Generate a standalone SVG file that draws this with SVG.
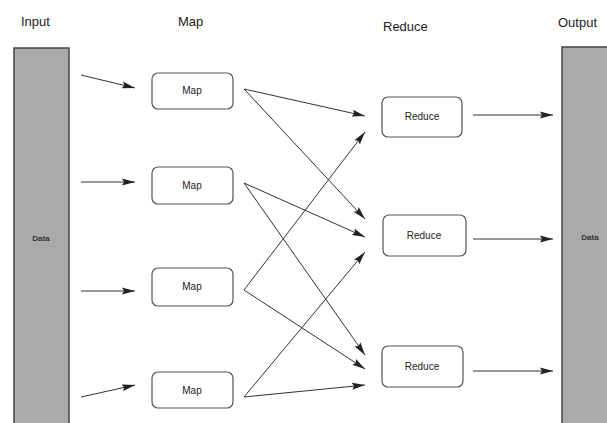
<svg xmlns="http://www.w3.org/2000/svg" width="607" height="423" viewBox="0 0 607 423">
<style>
.title{font-family:"Liberation Sans",Arial,sans-serif;font-size:13px;fill:#222}
.col{fill:#aaaaac;stroke:#444;stroke-width:1.5}
.box{fill:#fff;stroke:#555;stroke-width:1.2}
.lbl{font-family:"Liberation Sans",Arial,sans-serif;font-size:10px;fill:#222;text-anchor:middle}
.dlbl{font-family:"Liberation Sans",Arial,sans-serif;font-size:8px;font-weight:bold;fill:#333;text-anchor:middle}
.edge{stroke:#333;stroke-width:1;fill:none;marker-end:url(#arr)}
</style>
<defs>
<marker id="arr" markerUnits="userSpaceOnUse" markerWidth="14" markerHeight="8" refX="13" refY="4" orient="auto">
<path d="M0,0.5 L13,4 L0,7.5 L2,4 Z" fill="#222"/>
</marker>
</defs>
<rect width="607" height="423" fill="#fff"/>
<g id="titles">
<text class="title" x="21" y="26">Input</text>
<text class="title" x="178" y="26">Map</text>
<text class="title" x="383" y="31">Reduce</text>
<text class="title" x="558" y="27">Output</text>
</g>
<g id="input">
<rect class="col" x="14" y="48" width="55" height="380"/>
<text class="dlbl" x="41" y="241">Data</text>
</g>
<g id="output">
<rect class="col" x="562" y="47" width="60" height="380"/>
<text class="dlbl" x="590" y="240">Data</text>
</g>
<g id="map1"><rect class="box" x="152" y="73" width="81" height="36" rx="6"/><text class="lbl" x="192" y="94">Map</text></g>
<g id="map2"><rect class="box" x="152" y="167" width="81" height="37" rx="6"/><text class="lbl" x="192" y="189">Map</text></g>
<g id="map3"><rect class="box" x="152" y="268" width="81" height="38" rx="6"/><text class="lbl" x="192" y="290">Map</text></g>
<g id="map4"><rect class="box" x="152" y="372" width="81" height="36" rx="6"/><text class="lbl" x="192" y="394">Map</text></g>
<g id="reduce1"><rect class="box" x="382" y="97" width="80" height="40" rx="6"/><text class="lbl" x="422" y="120">Reduce</text></g>
<g id="reduce2"><rect class="box" x="383" y="215" width="83" height="41" rx="6"/><text class="lbl" x="424" y="239">Reduce</text></g>
<g id="reduce3"><rect class="box" x="382" y="346" width="81" height="41" rx="6"/><text class="lbl" x="422" y="370">Reduce</text></g>
<g id="connectors">
<line class="edge" x1="81" y1="75" x2="135" y2="88"/>
<line class="edge" x1="81" y1="182" x2="135" y2="182"/>
<line class="edge" x1="81" y1="291" x2="135" y2="291"/>
<line class="edge" x1="81" y1="397" x2="135" y2="385"/>
<line class="edge" x1="244" y1="89" x2="365" y2="116"/>
<line class="edge" x1="244" y1="89" x2="365" y2="219"/>
<line class="edge" x1="244" y1="183" x2="365" y2="237"/>
<line class="edge" x1="244" y1="183" x2="365" y2="355"/>
<line class="edge" x1="244" y1="290" x2="365" y2="132"/>
<line class="edge" x1="244" y1="290" x2="365" y2="369"/>
<line class="edge" x1="244" y1="397" x2="365" y2="252"/>
<line class="edge" x1="244" y1="397" x2="365" y2="385"/>
<line class="edge" x1="473" y1="115" x2="553" y2="115"/>
<line class="edge" x1="473" y1="239" x2="553" y2="239"/>
<line class="edge" x1="473" y1="371" x2="553" y2="371"/>
</g>
</svg>
